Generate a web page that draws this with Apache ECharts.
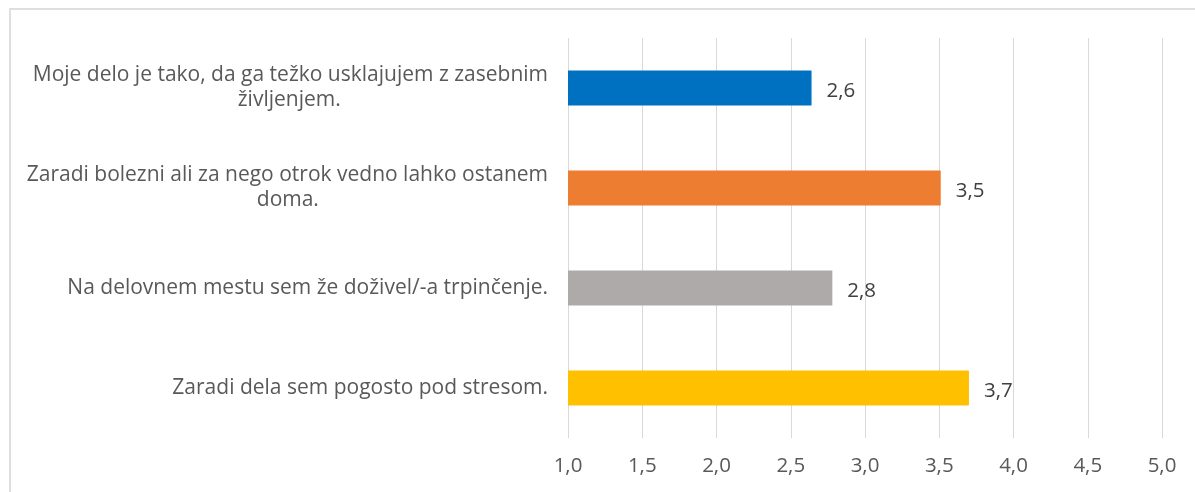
<!DOCTYPE html>
<html>
<head>
<meta charset="utf-8">
<script src="https://cdn.jsdelivr.net/npm/echarts@6/dist/echarts.min.js"></script>
<style>
    html, body { margin: 0; padding: 0; background: #fff; overflow: hidden; }
    #frame { position: absolute; left: 9px; top: 8px; width: 1300px; height: 600px; border: 2px solid #dedede; box-sizing: border-box; }
    #main { position: absolute; left: 0; top: 0; width: 1195px; height: 492px; }
</style>
</head>
<body>
<div id="frame"></div>
<div id="main"></div>
<script>
// trditve (od zgoraj navzdol)
var categories = [
    'Moje delo je tako, da ga težko usklajujem z zasebnim\nživljenjem.',
    'Zaradi bolezni ali za nego otrok vedno lahko ostanem\ndoma.',
    'Na delovnem mestu sem že doživel/-a trpinčenje.',
    'Zaradi dela sem pogosto pod stresom.'
];
var values = [2.64, 3.51, 2.78, 3.70];
var colors = ['#0070C0', '#ED7D31', '#AEAAAA', '#FFC000'];
var xMin = 1, xMax = 5, xStep = 0.5;

var font = '"Open Sans", sans-serif';
var catSize = 21;
var numSize = 20.5;

function fmt(v) {
    return v.toFixed(1).replace('.', ',');
}

// kratke vrstice centriramo pod daljso (kot v Excelu)
var ctx = document.createElement('canvas').getContext('2d');
ctx.font = catSize + 'px ' + font;
var spaceW = ctx.measureText(' ').width;
function centerLines(txt) {
    var lines = txt.split('\n');
    if (lines.length < 2) return txt;
    var maxW = 0;
    lines.forEach(function(l) { maxW = Math.max(maxW, ctx.measureText(l).width); });
    return lines.map(function(l) {
        var pad = (maxW - ctx.measureText(l).width) / 2;
        var n = Math.round(pad / spaceW);
        return l + new Array(n + 1).join(' ');
    }).join('\n');
}

var myChart = echarts.init(document.getElementById('main'));

myChart.setOption({
    backgroundColor: 'transparent',
    animation: false,
    grid: { left: 568, right: 33, top: 38, bottom: 54 },
    xAxis: {
        type: 'value',
        min: xMin,
        max: xMax,
        interval: xStep,
        axisLine: { show: false },
        axisTick: { show: false },
        splitLine: { lineStyle: { color: '#d9d9d9', width: 1 } },
        axisLabel: {
            color: '#595959',
            fontSize: numSize,
            fontFamily: font,
            margin: 18,
            formatter: function(v) { return fmt(v); }
        }
    },
    yAxis: {
        type: 'category',
        inverse: true,
        data: categories,
        axisLine: { show: false },
        axisTick: { show: false },
        splitLine: { show: false },
        axisLabel: {
            color: '#595959',
            fontSize: catSize,
            fontFamily: font,
            margin: 20,
            lineHeight: 25,
            formatter: function(v) { return centerLines(v); }
        }
    },
    series: [{
        type: 'bar',
        barWidth: 35,
        data: values.map(function(v, i) {
            return { value: v, itemStyle: { color: colors[i] } };
        }),
        label: {
            show: true,
            position: 'right',
            distance: 15,
            color: '#404040',
            fontSize: numSize,
            fontFamily: font,
            offset: [0, 3],
            formatter: function(p) { return fmt(p.value); }
        }
    }]
});
</script>
</body>
</html>
